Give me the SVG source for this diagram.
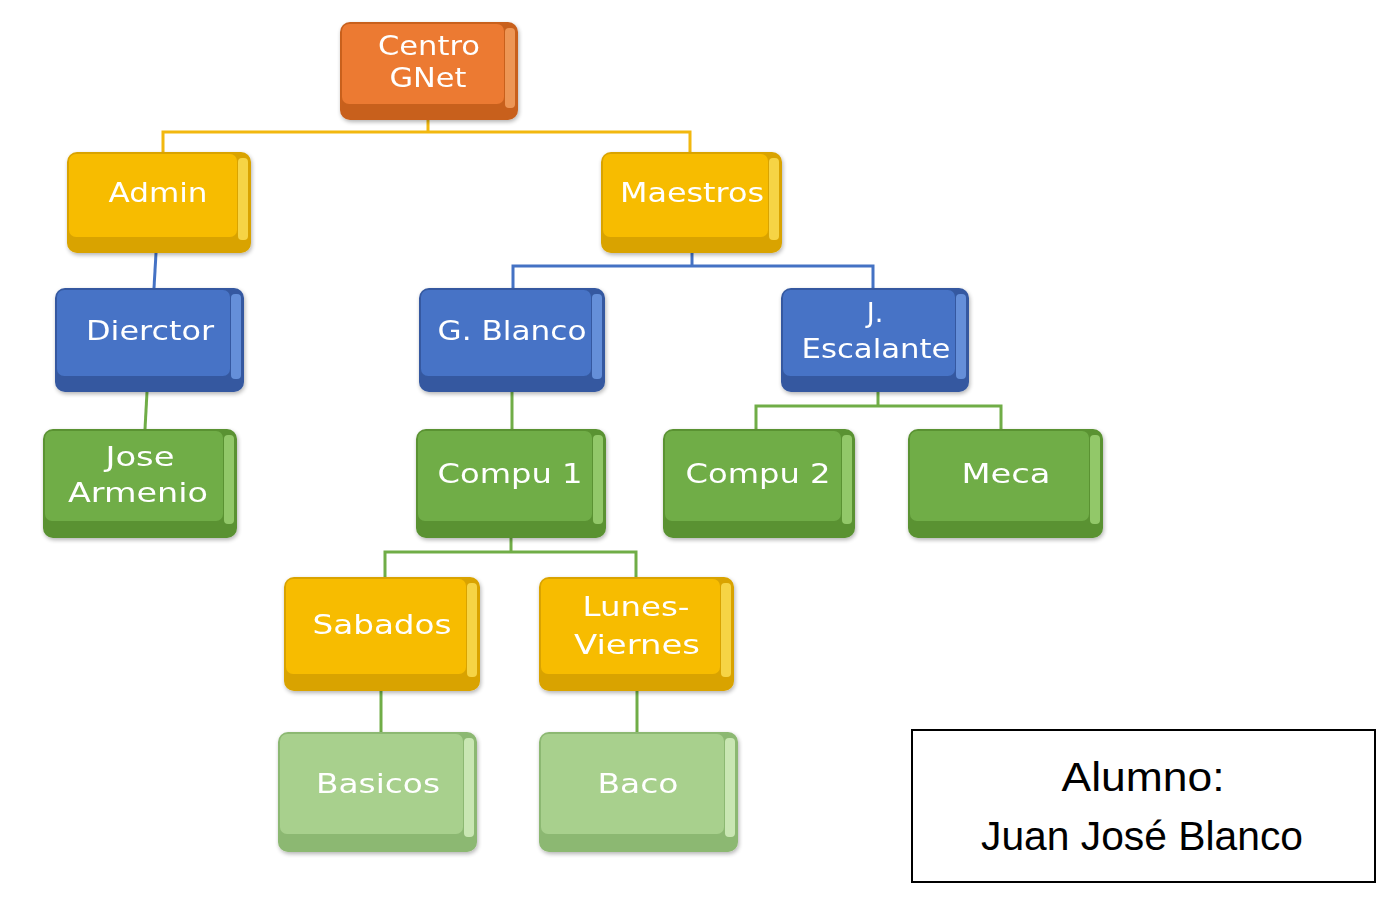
<svg xmlns="http://www.w3.org/2000/svg" width="1396" height="913" viewBox="0 0 1396 913">
<style>
.lbl{font-family:"DejaVu Sans","Open Sans",sans-serif;font-size:27px;fill:#ffffff;text-anchor:middle}
.conn path{fill:none;stroke-width:3}
.cy{stroke:#F2B80F}.cb{stroke:#4472C4}.cg{stroke:#70AD47}
.eo{fill:#C8601E}.fo{fill:#EC7A30}.ho{fill:#F9A868}
.ey{fill:#D9A300}.fy{fill:#F7BC00}.hy{fill:#FFE45C}
.eb{fill:#3559A0}.fb{fill:#4673C6}.hb{fill:#76A2EC}
.eg{fill:#5A9232}.fg{fill:#70AD47}.hg{fill:#A6DA7C}
.el{fill:#8CB872}.fl{fill:#A8D08D}.hl{fill:#DDF5CA}
.ho,.hy,.hb,.hg,.hl{opacity:0.75}
.note{font-family:"Liberation Sans",Arial,sans-serif;font-size:40px;fill:#000;text-anchor:middle}
</style>
<defs>
<filter id="sh" x="-10%" y="-10%" width="120%" height="130%">
<feGaussianBlur in="SourceAlpha" stdDeviation="2"/>
<feOffset dx="1" dy="2"/>
<feComponentTransfer><feFuncA type="linear" slope="0.3"/></feComponentTransfer>
<feMerge><feMergeNode/><feMergeNode in="SourceGraphic"/></feMerge>
</filter>
</defs>
<rect width="1396" height="913" fill="#ffffff"/>
<g id="connectors" class="conn">
<path class="cy" d="M428,120 V132"/>
<path class="cy" d="M163,152 V132 H690 V152"/>
<path class="cb" d="M156,253 L154,288"/>
<path class="cb" d="M692,253 V266"/>
<path class="cb" d="M513,288 V266 H873 V288"/>
<path class="cg" d="M147,392 L145,429"/>
<path class="cg" d="M512,392 V429"/>
<path class="cg" d="M878,392 V406"/>
<path class="cg" d="M756,429 V406 H1001 V429"/>
<path class="cg" d="M511,538 V552"/>
<path class="cg" d="M385,577 V552 H636 V577"/>
<path class="cg" d="M381,691 V732"/>
<path class="cg" d="M637,691 V732"/>
</g>
<g id="n-centro" filter="url(#sh)">
<rect class="eo" x="340" y="22" width="178" height="98" rx="10"/>
<rect class="fo" x="342" y="24" width="162" height="80" rx="7"/>
<rect class="ho" x="505" y="28" width="10" height="80" rx="4"/>
<text class="lbl" x="429" y="55" textLength="102" lengthAdjust="spacingAndGlyphs">Centro</text>
<text class="lbl" x="428" y="87" textLength="77" lengthAdjust="spacingAndGlyphs">GNet</text>
</g>
<g id="n-admin" filter="url(#sh)">
<rect class="ey" x="67" y="152" width="184" height="101" rx="10"/>
<rect class="fy" x="69" y="154" width="168" height="83" rx="7"/>
<rect class="hy" x="238" y="158" width="10" height="82" rx="4"/>
<text class="lbl" x="158" y="202" textLength="99" lengthAdjust="spacingAndGlyphs">Admin</text>
</g>
<g id="n-maestros" filter="url(#sh)">
<rect class="ey" x="601" y="152" width="181" height="101" rx="10"/>
<rect class="fy" x="603" y="154" width="165" height="83" rx="7"/>
<rect class="hy" x="769" y="158" width="10" height="82" rx="4"/>
<text class="lbl" x="692" y="202" textLength="144" lengthAdjust="spacingAndGlyphs">Maestros</text>
</g>
<g id="n-dierctor" filter="url(#sh)">
<rect class="eb" x="55" y="288" width="189" height="104" rx="10"/>
<rect class="fb" x="57" y="290" width="173" height="86" rx="7"/>
<rect class="hb" x="231" y="294" width="10" height="85" rx="4"/>
<text class="lbl" x="150" y="340" textLength="128" lengthAdjust="spacingAndGlyphs">Dierctor</text>
</g>
<g id="n-gblanco" filter="url(#sh)">
<rect class="eb" x="419" y="288" width="186" height="104" rx="10"/>
<rect class="fb" x="421" y="290" width="170" height="86" rx="7"/>
<rect class="hb" x="592" y="294" width="10" height="85" rx="4"/>
<text class="lbl" x="512" y="340" textLength="149" lengthAdjust="spacingAndGlyphs">G. Blanco</text>
</g>
<g id="n-jescalante" filter="url(#sh)">
<rect class="eb" x="781" y="288" width="188" height="104" rx="10"/>
<rect class="fb" x="783" y="290" width="172" height="86" rx="7"/>
<rect class="hb" x="956" y="294" width="10" height="85" rx="4"/>
<text class="lbl" x="875" y="322">J.</text>
<text class="lbl" x="876" y="358" textLength="149" lengthAdjust="spacingAndGlyphs">Escalante</text>
</g>
<g id="n-jose" filter="url(#sh)">
<rect class="eg" x="43" y="429" width="194" height="109" rx="10"/>
<rect class="fg" x="45" y="431" width="178" height="90" rx="7"/>
<rect class="hg" x="224" y="435" width="10" height="89" rx="4"/>
<text class="lbl" x="140" y="466" textLength="69" lengthAdjust="spacingAndGlyphs">Jose</text>
<text class="lbl" x="138" y="502" textLength="140" lengthAdjust="spacingAndGlyphs">Armenio</text>
</g>
<g id="n-compu1" filter="url(#sh)">
<rect class="eg" x="416" y="429" width="190" height="109" rx="10"/>
<rect class="fg" x="418" y="431" width="174" height="90" rx="7"/>
<rect class="hg" x="593" y="435" width="10" height="89" rx="4"/>
<text class="lbl" x="510" y="483" textLength="145" lengthAdjust="spacingAndGlyphs">Compu 1</text>
</g>
<g id="n-compu2" filter="url(#sh)">
<rect class="eg" x="663" y="429" width="192" height="109" rx="10"/>
<rect class="fg" x="665" y="431" width="176" height="90" rx="7"/>
<rect class="hg" x="842" y="435" width="10" height="89" rx="4"/>
<text class="lbl" x="758" y="483" textLength="145" lengthAdjust="spacingAndGlyphs">Compu 2</text>
</g>
<g id="n-meca" filter="url(#sh)">
<rect class="eg" x="908" y="429" width="195" height="109" rx="10"/>
<rect class="fg" x="910" y="431" width="179" height="90" rx="7"/>
<rect class="hg" x="1090" y="435" width="10" height="89" rx="4"/>
<text class="lbl" x="1006" y="483" textLength="89" lengthAdjust="spacingAndGlyphs">Meca</text>
</g>
<g id="n-sabados" filter="url(#sh)">
<rect class="ey" x="284" y="577" width="196" height="114" rx="10"/>
<rect class="fy" x="286" y="579" width="180" height="95" rx="7"/>
<rect class="hy" x="467" y="583" width="10" height="94" rx="4"/>
<text class="lbl" x="382" y="634" textLength="139" lengthAdjust="spacingAndGlyphs">Sabados</text>
</g>
<g id="n-lunes" filter="url(#sh)">
<rect class="ey" x="539" y="577" width="195" height="114" rx="10"/>
<rect class="fy" x="541" y="579" width="179" height="95" rx="7"/>
<rect class="hy" x="721" y="583" width="10" height="94" rx="4"/>
<text class="lbl" x="636" y="616" textLength="107" lengthAdjust="spacingAndGlyphs">Lunes-</text>
<text class="lbl" x="637" y="654" textLength="126" lengthAdjust="spacingAndGlyphs">Viernes</text>
</g>
<g id="n-basicos" filter="url(#sh)">
<rect class="el" x="278" y="732" width="199" height="120" rx="10"/>
<rect class="fl" x="280" y="734" width="183" height="100" rx="7"/>
<rect class="hl" x="464" y="738" width="10" height="99" rx="4"/>
<text class="lbl" x="378" y="793" textLength="124" lengthAdjust="spacingAndGlyphs">Basicos</text>
</g>
<g id="n-baco" filter="url(#sh)">
<rect class="el" x="539" y="732" width="199" height="120" rx="10"/>
<rect class="fl" x="541" y="734" width="183" height="100" rx="7"/>
<rect class="hl" x="725" y="738" width="10" height="99" rx="4"/>
<text class="lbl" x="638" y="793" textLength="81" lengthAdjust="spacingAndGlyphs">Baco</text>
</g>
<g id="alumno">
<rect x="912" y="730" width="463" height="152" fill="#ffffff" stroke="#000" stroke-width="2"/>
<text class="note" x="1143" y="791" textLength="163" lengthAdjust="spacingAndGlyphs">Alumno:</text>
<text class="note" x="1142" y="850" textLength="322" lengthAdjust="spacingAndGlyphs">Juan José Blanco</text>
</g>
</svg>
